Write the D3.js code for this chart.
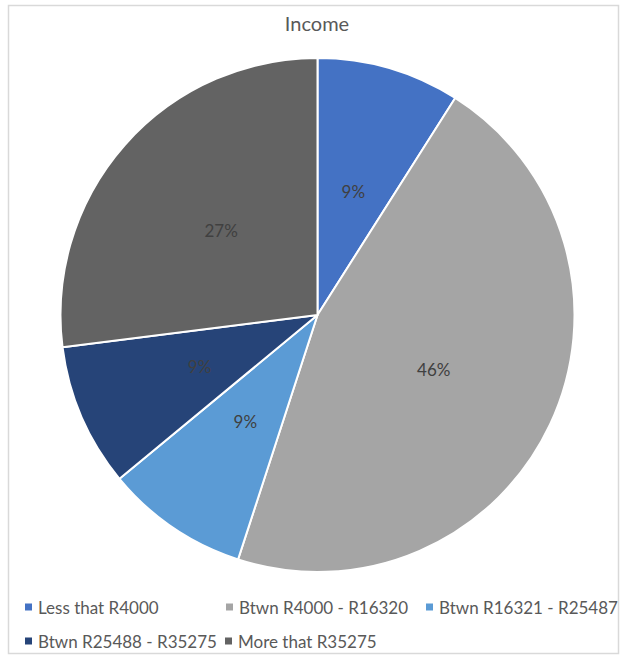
<!DOCTYPE html>
<html>
<head>
<meta charset="utf-8">
<script src="https://cdn.jsdelivr.net/npm/d3@7/dist/d3.min.js"></script>
<style>
  html, body { margin: 0; padding: 0; background: #fff; }
  svg { display: block; font-family: Lato, "Open Sans", sans-serif; }
</style>
</head>
<body>
<svg id="chart" width="620" height="655"></svg>
<script>
// Income brackets and their share of respondents (percent)
const categories = [
  "Less that R4000",
  "Btwn R4000 - R16320",
  "Btwn R16321 - R25487",
  "Btwn R25488 - R35275",
  "More that R35275"
];
const shares = [9, 46, 9, 9, 27];
const sliceColors = ["#4472C4", "#A5A5A5", "#5B9BD5", "#264478", "#636363"];
const title = "Income";

const svg = d3.select("#chart");

// chart frame
svg.append("rect")
  .attr("x", 8.5).attr("y", 5.5)
  .attr("width", 610).attr("height", 648)
  .attr("fill", "#fff")
  .attr("stroke", "#d9d9d9")
  .attr("stroke-width", 1.5);

svg.append("text")
  .attr("x", 317).attr("y", 31)
  .attr("text-anchor", "middle")
  .attr("font-size", 20)
  .attr("fill", "#595959")
  .text(title);

const cx = 317.5, cy = 315, radius = 257;
const data = categories.map((c, i) => ({ category: c, value: shares[i], color: sliceColors[i] }));

const pie = d3.pie().value(d => d.value).sort(null);
const arc = d3.arc().innerRadius(0).outerRadius(radius);
const labelArc = d3.arc().innerRadius(radius * 0.5).outerRadius(radius * 0.5);

const g = svg.append("g").attr("transform", `translate(${cx},${cy})`);
const arcs = pie(data);

g.selectAll("path.slice")
  .data(arcs)
  .join("path")
  .attr("class", "slice")
  .attr("d", arc)
  .attr("fill", d => d.data.color)
  .attr("stroke", "#fff")
  .attr("stroke-width", 2)
  .attr("stroke-linejoin", "round");

g.selectAll("text.pct")
  .data(arcs)
  .join("text")
  .attr("class", "pct")
  .attr("transform", d => `translate(${labelArc.centroid(d)})`)
  .attr("text-anchor", "middle")
  .attr("dominant-baseline", "central")
  .attr("font-size", 17)
  .attr("fill", "#404040")
  .text(d => d3.format(".0f")(d.data.value) + "%");

// legend: two rows under the pie
const legendPos = [
  { x: 25, y: 607 }, { x: 226, y: 607 }, { x: 426, y: 607 },
  { x: 25, y: 641 }, { x: 225, y: 641 }
];
const legend = svg.append("g").selectAll("g")
  .data(data)
  .join("g")
  .attr("transform", (d, i) => `translate(${legendPos[i].x},${legendPos[i].y})`);

legend.append("rect")
  .attr("x", 0).attr("y", -3.5)
  .attr("width", 7).attr("height", 7)
  .attr("fill", d => d.color);

legend.append("text")
  .attr("x", 13).attr("y", 0)
  .attr("dominant-baseline", "central")
  .attr("font-size", 17)
  .attr("fill", "#595959")
  .text(d => d.category);
</script>
</body>
</html>
